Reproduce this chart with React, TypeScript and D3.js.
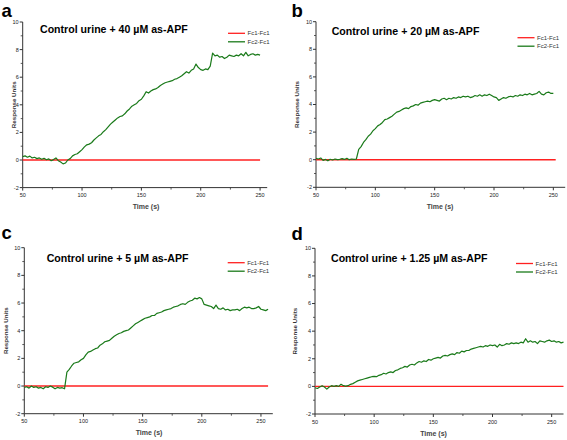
import React from "react";
import * as d3 from "d3";

// ---------- data ----------
const TITLES = [
  "Control urine + 40 \u00b5M as-APF",
  "Control urine + 20 \u00b5M as-APF",
  "Control urine + 5 \u00b5M as-APF",
  "Control urine + 1.25 \u00b5M as-APF",
];
const PANEL_LETTERS = ["a", "b", "c", "d"];
const SERIES_NAMES = ["Fc1-Fc1", "Fc2-Fc1"];
const X_TICKS = [50, 100, 150, 200, 250];
const X_MINOR = [75, 125, 175, 225];
const Y_TICKS = [-2, 0, 2, 4, 6, 8, 10];
const Y_MINOR = [-1, 1, 3, 5, 7, 9];
const X_LABEL = "Time (s)";
const Y_LABEL = "Response Units";

// time points (s), one sample every 2 s
const TIME_A = d3.range(50, 251, 2);
const TIME_B = d3.range(50, 251, 2);
const TIME_C = d3.range(50, 257, 2);
const TIME_D = d3.range(50, 261, 2);

// Fc2-Fc1 responses
const FC2_A = [
  0.25, 0.3, 0.2, 0.28, 0.15, 0.2, 0.1, 0.15, 0.05, 0.12, 0.02, 0.08, -0.05, 0.03, 0.15, -0.05, -0.15, -0.28, -0.22, 0.0,
  0.1, 0.3, 0.4, 0.45, 0.6, 0.75, 0.95, 1.1, 1.15, 1.25, 1.45, 1.6, 1.75, 1.85, 2.05, 2.2, 2.4, 2.6, 2.75, 2.9,
  3.05, 3.15, 3.2, 3.35, 3.55, 3.7, 3.9, 4.0, 4.1, 4.3, 4.4, 4.65, 4.95, 4.85, 5.0, 5.1, 5.15, 5.25, 5.4, 5.5,
  5.6, 5.65, 5.7, 5.75, 5.85, 5.9, 6.0, 6.1, 6.25, 6.4, 6.3, 6.5, 6.6, 6.95, 6.7, 6.55, 6.5, 6.6, 6.55, 6.8,
  7.75, 7.55, 7.6, 7.45, 7.5, 7.35, 7.45, 7.6, 7.55, 7.5, 7.6, 7.55, 7.7, 7.55, 7.8, 7.55, 7.65, 7.7, 7.6, 7.65,
  7.6,
];
const FC2_B = [
  0.1, 0.05, 0.12, -0.05, 0.02, -0.08, 0.03, -0.02, 0.05, 0.0, 0.03, 0.08, 0.02, 0.1, 0.0, 0.05, 0.02, 0.05, 0.75, 0.95,
  1.25, 1.45, 1.7, 1.85, 2.1, 2.25, 2.45, 2.55, 2.7, 2.9, 2.95, 3.05, 3.15, 3.3, 3.45, 3.5, 3.6, 3.7, 3.75, 3.7,
  3.85, 3.9, 4.0, 3.95, 4.1, 4.15, 4.2, 4.25, 4.2, 4.3, 4.35, 4.3, 4.25, 4.4, 4.45, 4.35, 4.45, 4.4, 4.5, 4.45,
  4.55, 4.5, 4.6, 4.55, 4.6, 4.5, 4.55, 4.65, 4.6, 4.7, 4.6, 4.7, 4.65, 4.75, 4.65, 4.55, 4.5, 4.3, 4.4, 4.5,
  4.45, 4.55, 4.6, 4.55, 4.65, 4.6, 4.7, 4.65, 4.75, 4.7, 4.8, 4.7, 4.75, 4.8, 4.95, 4.75, 4.7, 4.85, 4.9, 4.8,
  4.8,
];
const FC2_C = [
  -0.1, -0.05, -0.15, 0.0, -0.1, -0.05, -0.15, -0.1, -0.2, -0.05, -0.1, 0.0, -0.08, -0.2, -0.1, -0.15, -0.12, -0.2, 1.0, 1.2,
  1.45, 1.65, 1.7, 1.75, 1.9, 2.0, 2.25, 2.45, 2.5, 2.6, 2.7, 2.75, 2.95, 3.05, 3.2, 3.25, 3.3, 3.45, 3.6, 3.7,
  3.8, 3.85, 3.95, 4.0, 4.05, 4.2, 4.35, 4.5, 4.6, 4.7, 4.8, 4.9, 4.95, 5.0, 5.1, 5.1, 5.25, 5.3, 5.35, 5.45,
  5.5, 5.55, 5.6, 5.7, 5.75, 5.8, 5.9, 5.95, 5.9, 6.05, 6.15, 6.2, 6.35, 6.3, 6.4, 6.3, 5.9, 5.85, 5.8, 5.75,
  5.6, 5.85, 5.6, 5.55, 5.65, 5.5, 5.55, 5.45, 5.5, 5.5, 5.55, 5.45, 5.6, 5.7, 5.65, 5.7, 5.6, 5.6, 5.65, 5.75,
  5.55, 5.5, 5.45, 5.55,
];
const FC2_D = [
  -0.1, -0.15, -0.05, 0.05, -0.05, -0.2, -0.05, 0.05, 0.0, 0.05, 0.0, 0.15, 0.05, 0.02, 0.05, 0.15, 0.2, 0.3, 0.4, 0.45,
  0.5, 0.55, 0.6, 0.65, 0.7, 0.72, 0.7, 0.8, 0.85, 0.95, 0.9, 1.0, 1.05, 1.0, 1.15, 1.2, 1.3, 1.35, 1.45, 1.4,
  1.55, 1.6, 1.55, 1.7, 1.8, 1.75, 1.85, 1.8, 1.95, 1.9, 2.0, 2.05, 2.1, 2.05, 2.2, 2.25, 2.2, 2.3, 2.35, 2.3,
  2.45, 2.4, 2.55, 2.5, 2.6, 2.6, 2.7, 2.75, 2.8, 2.85, 2.9, 2.85, 2.95, 2.9, 3.0, 2.95, 3.0, 2.85, 3.05, 2.95,
  3.0, 3.1, 3.05, 3.15, 3.1, 3.15, 3.1, 3.2, 3.15, 3.45, 3.2, 3.3, 3.2, 3.25, 3.1, 3.3, 3.25, 3.2, 3.3, 3.35,
  3.25, 3.3, 3.2, 3.25, 3.15, 3.2,
];

// Fc1-Fc1 reference (flat baseline) start/end times
const FC1_SPAN_A = [50, 250];
const FC1_SPAN_B = [50, 252];
const FC1_SPAN_C = [50, 256];
const FC1_SPAN_D = [50, 260];
const FC1_LEVEL = 0;

// ---------- layout ----------
const LAYOUT = [
  { x0: 22.7, x1: 267.2, tMax: 256, yTop: 22, yBot: 187.6, letterX: 1.5, letterY: 16.5, titleX: 40, titleY: 33.3, legX: 228, legY: 33.3, ylabX: 13.7, timeX: 146, timeY: 209 },
  { x0: 316, x1: 565.2, tMax: 260, yTop: 21.7, yBot: 187.3, letterX: 291.5, letterY: 16.5, titleX: 331.7, titleY: 35, legX: 517.5, legY: 37.7, ylabX: 296.7, timeX: 440, timeY: 209 },
  { x0: 24.3, x1: 272.8, tMax: 260, yTop: 247.7, yBot: 413.7, letterX: 1.5, letterY: 238.5, titleX: 46.7, titleY: 261.7, legX: 227.7, legY: 262.7, ylabX: 5.7, timeX: 149, timeY: 435 },
  { x0: 315, x1: 563.5, tMax: 260, yTop: 248.3, yBot: 414, letterX: 291.5, letterY: 240, titleX: 331, titleY: 261.7, legX: 516, legY: 263.5, ylabX: 295, timeX: 433.5, timeY: 435.5 },
];

const TIMES = [TIME_A, TIME_B, TIME_C, TIME_D];
const FC2 = [FC2_A, FC2_B, FC2_C, FC2_D];
const FC1_SPANS = [FC1_SPAN_A, FC1_SPAN_B, FC1_SPAN_C, FC1_SPAN_D];

const RED = "#ff2020";
const GREEN = "#1a7a1a";
const AXIS = "#333";
const FONT = "'Liberation Sans', Arial, sans-serif";

function Panel({ i }: { i: number }) {
  const L = LAYOUT[i];
  const x = d3.scaleLinear().domain([50, L.tMax]).range([L.x0, L.x1]);
  const y = d3.scaleLinear().domain([-2, 10]).range([L.yBot, L.yTop]);
  const pts: [number, number][] = TIMES[i].map((t, k) => [t, FC2[i][k]]);
  const line = d3
    .line<[number, number]>()
    .x((d) => x(d[0]))
    .y((d) => y(d[1]));
  const span = FC1_SPANS[i];
  const yMid = (L.yTop + L.yBot) / 2;
  return (
    <g fontFamily={FONT}>
      <text x={L.letterX} y={L.letterY} fontSize={18.5} fontWeight="bold" fill="#000">
        {PANEL_LETTERS[i]}
      </text>
      {/* axes */}
      <line x1={x(50)} x2={x(50)} y1={y(10)} y2={y(-2)} stroke={AXIS} strokeWidth={1} />
      <line x1={x(50)} x2={x(L.tMax)} y1={y(-2)} y2={y(-2)} stroke={AXIS} strokeWidth={1} />
      {Y_TICKS.map((v) => (
        <g key={"yt" + v}>
          <line x1={x(50) - 3} x2={x(50)} y1={y(v)} y2={y(v)} stroke={AXIS} strokeWidth={1} />
          <text x={x(50) - 4} y={y(v)} dy="0.35em" fontSize={5.5} textAnchor="end" fill="#222">
            {v}
          </text>
        </g>
      ))}
      {Y_MINOR.map((v) => (
        <line key={"ym" + v} x1={x(50) - 2} x2={x(50)} y1={y(v)} y2={y(v)} stroke={AXIS} strokeWidth={0.8} />
      ))}
      {X_TICKS.map((t) => (
        <g key={"xt" + t}>
          <line x1={x(t)} x2={x(t)} y1={y(-2)} y2={y(-2) + 3} stroke={AXIS} strokeWidth={1} />
          <text x={x(t)} y={y(-2) + 9.5} fontSize={5.5} textAnchor="middle" fill="#222">
            {t}
          </text>
        </g>
      ))}
      {X_MINOR.map((t) => (
        <line key={"xm" + t} x1={x(t)} x2={x(t)} y1={y(-2)} y2={y(-2) + 2} stroke={AXIS} strokeWidth={0.8} />
      ))}
      <text x={L.timeX} y={L.timeY} fontSize={7} fontWeight="bold" textAnchor="middle" fill="#444">
        {X_LABEL}
      </text>
      <text
        transform={`translate(${L.ylabX},${yMid}) rotate(-90)`}
        fontSize={6.2}
        fontWeight="bold"
        textAnchor="middle"
        dy="0.35em"
        fill="#333"
      >
        {Y_LABEL}
      </text>
      {/* title */}
      <text x={L.titleX} y={L.titleY} fontSize={10.6} fontWeight="bold" fill="#000">
        {TITLES[i]}
      </text>
      {/* series */}
      <line x1={x(span[0])} x2={x(span[1])} y1={y(FC1_LEVEL)} y2={y(FC1_LEVEL)} stroke={RED} strokeWidth={1.4} />
      <path d={line(pts) || ""} fill="none" stroke={GREEN} strokeWidth={1.2} strokeLinejoin="round" />
      {/* legend */}
      {SERIES_NAMES.map((name, k) => (
        <g key={name}>
          <line
            x1={L.legX}
            x2={L.legX + 17}
            y1={L.legY + k * 8.5}
            y2={L.legY + k * 8.5}
            stroke={k === 0 ? RED : GREEN}
            strokeWidth={1.3}
          />
          <text x={L.legX + 19.5} y={L.legY + k * 8.5} dy="0.35em" fontSize={6} fill="#333">
            {name}
          </text>
        </g>
      ))}
    </g>
  );
}

export default function App() {
  return (
    <svg
      width={567}
      height={440}
      viewBox="0 0 567 440"
      style={{ position: "absolute", left: 0, top: 0, background: "#fff" }}
    >
      <rect width={567} height={440} fill="#fff" />
      {[0, 1, 2, 3].map((i) => (
        <Panel key={i} i={i} />
      ))}
    </svg>
  );
}
